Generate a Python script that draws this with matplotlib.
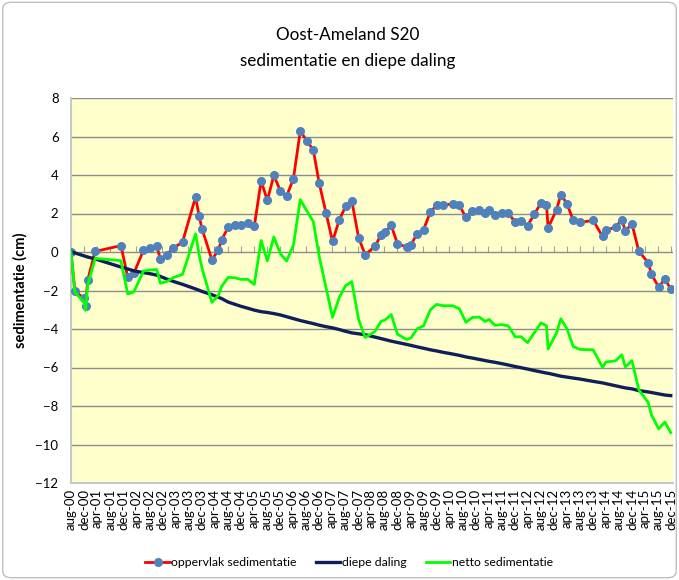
import numpy as np
import matplotlib
matplotlib.use("Agg")
import matplotlib.pyplot as plt
from matplotlib.patches import FancyBboxPatch
from matplotlib.lines import Line2D

plt.rcParams['font.family'] = ['Lato', 'DejaVu Sans']

# measurement moments, in months after aug-2000
months = [0, 1.2, 4.0, 4.5, 5.1, 7.4, 15.3, 17.4, 19.3, 22.2, 24.3, 26.3, 27.4, 29.3,
          31.4, 34.2, 38.2, 39.3, 40.2, 43.2, 45.2, 46.2, 48.2, 50.3, 52.1, 54.2,
          56.2, 58.3, 60.2, 62.2, 64.2, 66.1, 68.2, 70.3, 72.3, 74.3, 76.1, 78.2,
          80.2, 82.3, 84.2, 86.1, 88.2, 90.2, 93.2, 95.1, 96.3, 98.2, 100.1, 102.9,
          104.2, 106.2, 108.1, 110.2, 112.1, 114.1, 117.0, 119.1, 121.1, 123.1,
          125.2, 127.0, 128.2, 130.0, 132.1, 134.1, 136.2, 138.0, 140.0, 142.1,
          144.1, 145.8, 146.3, 148.9, 150.2, 152.1, 154.0, 156.1, 160.1, 163.0,
          164.0, 167.0, 168.9, 170.0, 172.0, 174.1, 177.0, 178.0, 180.2, 182.1, 183.9]

oppervlak = [0.0, -2.05, -2.4, -2.8, -1.47, 0.03, 0.33, -1.3, -1.09, 0.08, 0.2, 0.29, -0.35, -0.14,
             0.2, 0.52, 2.86, 1.85, 1.19, -0.4, 0.1, 0.64, 1.28, 1.38, 1.4, 1.5,
             1.33, 3.7, 2.68, 3.98, 3.18, 2.89, 3.81, 6.28, 5.78, 5.3, 3.58, 2.03,
             0.55, 1.68, 2.37, 2.66, 0.74, -0.14, 0.29, 0.9, 1.02, 1.38, 0.43, 0.26,
             0.38, 0.95, 1.16, 2.08, 2.42, 2.42, 2.51, 2.42, 1.8, 2.11,
             2.2, 2.03, 2.18, 1.92, 2.03, 2.03, 1.54, 1.61, 1.37, 1.97,
             2.55, 2.46, 1.26, 2.2, 2.98, 2.51, 1.64, 1.54, 1.64, 0.81,
             1.12, 1.3, 1.68, 1.09, 1.47, 0.05, -0.56, -1.16, -1.82, -1.4, -1.92]

diepe = [0.0, -0.05, -0.2, -0.23, -0.26, -0.36, -0.78, -0.88, -0.98, -1.07, -1.13, -1.2, -1.27, -1.4,
         -1.53, -1.68, -1.92, -1.99, -2.05, -2.22, -2.35, -2.42, -2.6, -2.72, -2.82, -2.92,
         -3.02, -3.1, -3.14, -3.2, -3.27, -3.36, -3.46, -3.56, -3.64, -3.72, -3.8, -3.88,
         -3.94, -4.03, -4.12, -4.2, -4.25, -4.3, -4.42, -4.5, -4.55, -4.63, -4.7, -4.8,
         -4.85, -4.93, -5.0, -5.08, -5.14, -5.21, -5.3, -5.37, -5.45, -5.51,
         -5.58, -5.64, -5.68, -5.73, -5.8, -5.87, -5.95, -6.01, -6.08, -6.16,
         -6.23, -6.29, -6.3, -6.4, -6.45, -6.5, -6.55, -6.6, -6.72, -6.8,
         -6.84, -6.95, -7.02, -7.06, -7.11, -7.2, -7.27, -7.3, -7.37, -7.43, -7.46]

netto = [0.0, -2.1, -2.6, -3.03, -1.73, -0.33, -0.45, -2.18, -2.07, -0.99, -0.93, -0.91, -1.62, -1.54,
         -1.33, -1.16, 0.94, -0.14, -0.86, -2.62, -2.25, -1.78, -1.32, -1.34, -1.42, -1.42,
         -1.69, 0.6, -0.46, 0.78, -0.09, -0.47, 0.35, 2.72, 2.14, 1.58, -0.22, -1.85,
         -3.39, -2.35, -1.75, -1.54, -3.51, -4.44, -4.13, -3.6, -3.53, -3.25, -4.27, -4.54,
         -4.47, -3.98, -3.84, -3.0, -2.72, -2.79, -2.79, -2.95, -3.65, -3.4,
         -3.38, -3.61, -3.5, -3.81, -3.77, -3.84, -4.41, -4.4, -4.71, -4.19,
         -3.68, -3.83, -5.04, -4.2, -3.47, -3.99, -4.91, -5.06, -5.08, -5.99,
         -5.72, -5.65, -5.34, -5.97, -5.64, -7.15, -7.83, -8.46, -9.19, -8.83, -9.38]

tick_labels = ['aug-00', 'dec-00',
               'apr-01', 'aug-01', 'dec-01', 'apr-02', 'aug-02', 'dec-02',
               'apr-03', 'aug-03', 'dec-03', 'apr-04', 'aug-04', 'dec-04',
               'apr-05', 'aug-05', 'dec-05', 'apr-06', 'aug-06', 'dec-06',
               'apr-07', 'aug-07', 'dec-07', 'apr-08', 'aug-08', 'dec-08',
               'apr-09', 'aug-09', 'dec-09', 'apr-10', 'aug-10', 'dec-10',
               'apr-11', 'aug-11', 'dec-11', 'apr-12', 'aug-12', 'dec-12',
               'apr-13', 'aug-13', 'dec-13', 'apr-14', 'aug-14', 'dec-14',
               'apr-15', 'aug-15', 'dec-15']
tick_pos = np.arange(len(tick_labels)) * 4

fig = plt.figure(figsize=(6.79, 5.8), dpi=100)
ax = fig.add_axes([71 / 679, 1 - 483 / 580, 602 / 679, 385 / 580])
ax.set_facecolor('#FFFFCC')

# series
ax.plot(months, oppervlak, color='red', linewidth=2, marker='o', markersize=5.5,
        markerfacecolor='#4F81BD', markeredgecolor='#4F81BD', zorder=3)
ax.plot(months, diepe, color='#0F1F5A', linewidth=2.4, zorder=4)
ax.plot(months, netto, color='#00FF00', linewidth=2, zorder=5)

ax.set_xlim(0, 184.6)
ax.set_ylim(-12, 8)
ax.set_yticks(np.arange(-12, 9, 2))
ax.yaxis.grid(True, color='#8C8C8C', linewidth=1)
ax.set_axisbelow(True)
ax.tick_params(axis='y', length=0, pad=9, labelsize=9.5)

ax.set_xticks(tick_pos)
ax.set_xticklabels(tick_labels, rotation=90, fontsize=9.5)
ax.tick_params(axis='x', length=0, pad=4)

for side in ['top', 'right']:
    ax.spines[side].set_visible(False)
ax.spines['left'].set_color('#C8C8C8')
ax.spines['left'].set_linewidth(1.5)
ax.spines['bottom'].set_color('#C8C8C8')
ax.spines['bottom'].set_linewidth(1.5)

# axis line at zero with tick marks
zero_ax = ax.secondary_xaxis(0.6)
zero_ax.set_xticks(tick_pos)
zero_ax.tick_params(length=4, direction='out', color='#A0A0A0', labelbottom=False, labeltop=False)
zero_ax.spines['bottom'].set_color('#A0A0A0')
zero_ax.spines['bottom'].set_linewidth(1.5)
zero_ax.spines['top'].set_visible(False)

ax.set_ylabel('sedimentatie (cm)', fontsize=10.5, fontweight='bold', labelpad=6)

fig.text(0.512, 1 - 35 / 580, 'Oost-Ameland S20', ha='center', va='center', fontsize=12.3)
fig.text(0.512, 1 - 61 / 580, 'sedimentatie en diepe daling', ha='center', va='center', fontsize=12.3)

handles = [Line2D([], [], color='red', linewidth=2, marker='o', markersize=5.5,
                  markerfacecolor='#4F81BD', markeredgecolor='#4F81BD'),
           Line2D([], [], color='#0F1F5A', linewidth=2.4),
           Line2D([], [], color='#00FF00', linewidth=2)]
fig.legend(handles, ['oppervlak sedimentatie', 'diepe daling', 'netto sedimentatie'],
           loc='center', bbox_to_anchor=(349 / 679, 1 - 563 / 580), ncol=3, frameon=False,
           fontsize=8.8, handlelength=2.0, handletextpad=0.1, columnspacing=1.6)

fig.patches.append(FancyBboxPatch((0.004, 0.004), 0.992, 0.992,
                                  boxstyle='round,pad=0,rounding_size=0.012',
                                  transform=fig.transFigure, fill=False,
                                  edgecolor='#BFBFBF', linewidth=1))

fig.savefig('out.png', dpi=100)
